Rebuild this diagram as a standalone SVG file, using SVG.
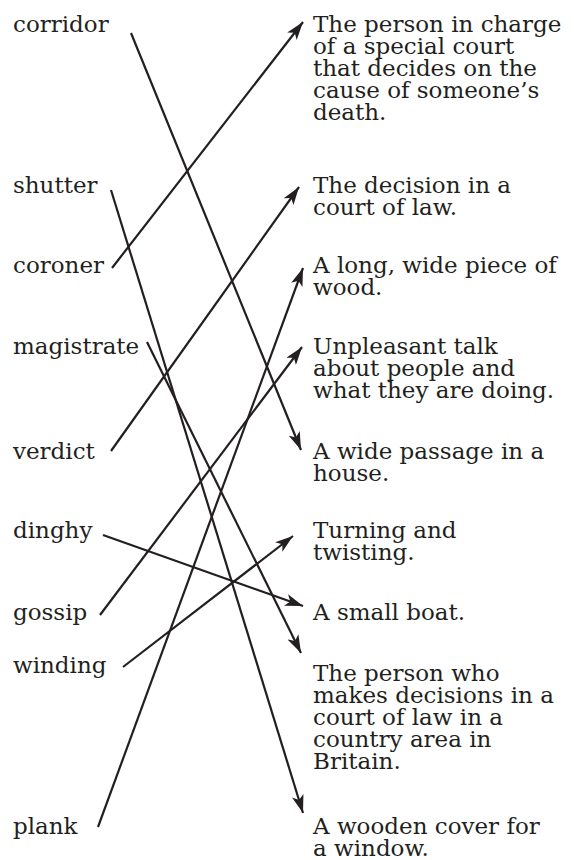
<svg xmlns="http://www.w3.org/2000/svg" width="574" height="860" viewBox="0 0 574 860">
<style>
text{font-family:"DejaVu Serif","Liberation Serif",serif;font-size:23px;fill:#231f20}
.c{stroke:#231f20;stroke-width:2.2;fill:none;marker-end:url(#ah)}
</style>
<defs>
<marker id="ah" markerUnits="userSpaceOnUse" markerWidth="19" markerHeight="12" refX="18" refY="6" orient="auto" viewBox="0 0 19 12">
<path d="M0,0 L18,6 L0,12 L4.5,6 z" fill="#231f20"/>
</marker>
</defs>
<rect width="574" height="860" fill="#fff"/>
<g id="left">
<g id="w-corridor"><text x="13" y="32">corridor</text></g>
<g id="w-shutter"><text x="13" y="193">shutter</text></g>
<g id="w-coroner"><text x="13" y="273">coroner</text></g>
<g id="w-magistrate"><text x="13" y="354">magistrate</text></g>
<g id="w-verdict"><text x="13" y="459">verdict</text></g>
<g id="w-dinghy"><text x="13" y="538">dinghy</text></g>
<g id="w-gossip"><text x="13" y="620">gossip</text></g>
<g id="w-winding"><text x="13" y="673">winding</text></g>
<g id="w-plank"><text x="13" y="834">plank</text></g>
</g>
<g id="right">
<g id="d-coroner"><text x="313" y="32">The person in charge<tspan x="313" dy="22">of a special court</tspan><tspan x="313" dy="22">that decides on the</tspan><tspan x="313" dy="22">cause of someone’s</tspan><tspan x="313" dy="22">death.</tspan></text></g>
<g id="d-verdict"><text x="313" y="193">The decision in a<tspan x="313" dy="22">court of law.</tspan></text></g>
<g id="d-plank"><text x="313" y="273">A long, wide piece of<tspan x="313" dy="22">wood.</tspan></text></g>
<g id="d-gossip"><text x="313" y="354">Unpleasant talk<tspan x="313" dy="22">about people and</tspan><tspan x="313" dy="22">what they are doing.</tspan></text></g>
<g id="d-corridor"><text x="313" y="459">A wide passage in a<tspan x="313" dy="22">house.</tspan></text></g>
<g id="d-winding"><text x="313" y="538">Turning and<tspan x="313" dy="22">twisting.</tspan></text></g>
<g id="d-dinghy"><text x="313" y="620">A small boat.</text></g>
<g id="d-magistrate"><text x="313" y="681">The person who<tspan x="313" dy="22">makes decisions in a</tspan><tspan x="313" dy="22">court of law in a</tspan><tspan x="313" dy="22">country area in</tspan><tspan x="313" dy="22">Britain.</tspan></text></g>
<g id="d-shutter"><text x="313" y="834">A wooden cover for<tspan x="313" dy="22">a window.</tspan></text></g>
</g>
<g id="connectors">
<line class="c" x1="131" y1="33" x2="301" y2="450"/>
<line class="c" x1="111" y1="190" x2="303" y2="813"/>
<line class="c" x1="112" y1="268" x2="303" y2="22"/>
<line class="c" x1="147" y1="342" x2="301" y2="653"/>
<line class="c" x1="111" y1="451" x2="299" y2="187"/>
<line class="c" x1="103" y1="535" x2="303" y2="606"/>
<line class="c" x1="100" y1="615" x2="302" y2="347"/>
<line class="c" x1="123" y1="667" x2="293" y2="536"/>
<line class="c" x1="98" y1="827" x2="303" y2="268"/>
</g>
</svg>
